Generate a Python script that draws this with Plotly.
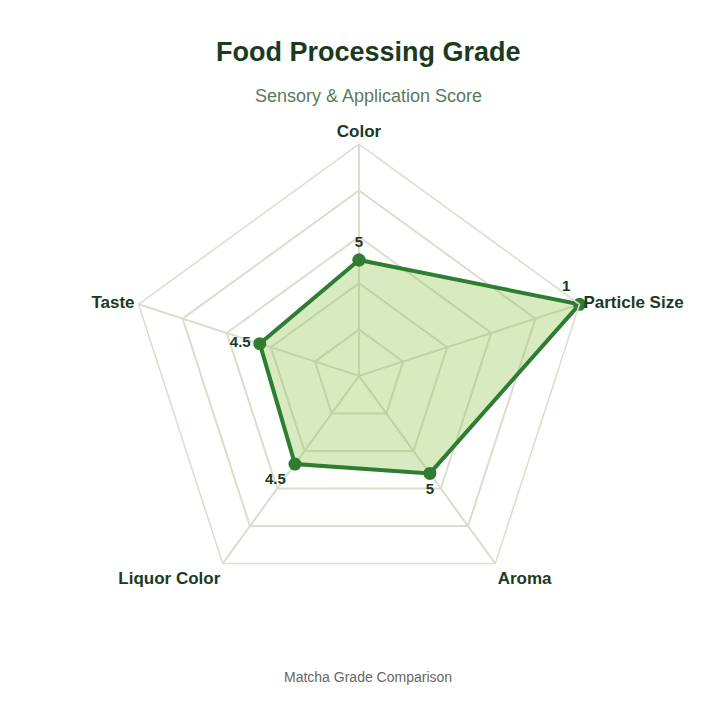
import plotly.graph_objects as go

categories = ["Color", "Particle Size", "Aroma", "Liquor Color", "Taste"]
scores = [0.5, 1.0, 0.52, 0.47, 0.45]
labels = ["5", "1", "5", "4.5", "4.5"]
positions = ["top center", "top left", "bottom center", "bottom left", "middle left"]

fig = go.Figure()
fig.add_trace(go.Scatterpolar(
    r=scores + [scores[0]], theta=categories + [categories[0]],
    mode="lines+markers+text", text=labels + [""], textposition=positions + ["top center"],
    textfont=dict(family="Liberation Sans, Arial", size=15, color="#1b3a1f", weight="bold"),
    line=dict(color="#2e7d32", width=4), marker=dict(size=13, color="#2e7d32"),
    fill="toself", fillcolor="rgba(139,195,74,0.35)", showlegend=False, cliponaxis=False))

fig.update_layout(
    width=720, height=720, paper_bgcolor="white", plot_bgcolor="white",
    margin=dict(l=0, r=0, t=0, b=0),
    font=dict(family="Liberation Sans, Arial"),
    polar=dict(
        domain=dict(x=[0.165, 0.810], y=[0.167, 0.811]),
        bgcolor="white", gridshape="linear",
        radialaxis=dict(range=[0, 1], dtick=0.2, showticklabels=False, ticks="",
                        showline=False, gridcolor="#dcdcd0", gridwidth=1.5),
        angularaxis=dict(rotation=90, direction="clockwise", showline=True,
                         linecolor="#dcdcd0", linewidth=1.5, gridcolor="#dcdcd0", gridwidth=1.5,
                         ticks="",
                         tickfont=dict(size=17, color="#1b3a1f", weight="bold"))),
    annotations=[
        dict(text="<b>Food Processing Grade</b>", x=0.5, y=0.962, xref="paper", yref="paper",
             showarrow=False, font=dict(size=27, color="#1b3a1f")),
        dict(text="Sensory & Application Score", x=0.5, y=0.895, xref="paper", yref="paper",
             showarrow=False, font=dict(size=18, color="#5a7a5e")),
        dict(text="Matcha Grade Comparison", x=0.5, y=0.057, xref="paper", yref="paper",
             showarrow=False, font=dict(size=14, color="#666666")),
    ])
fig.write_html("out.html")
